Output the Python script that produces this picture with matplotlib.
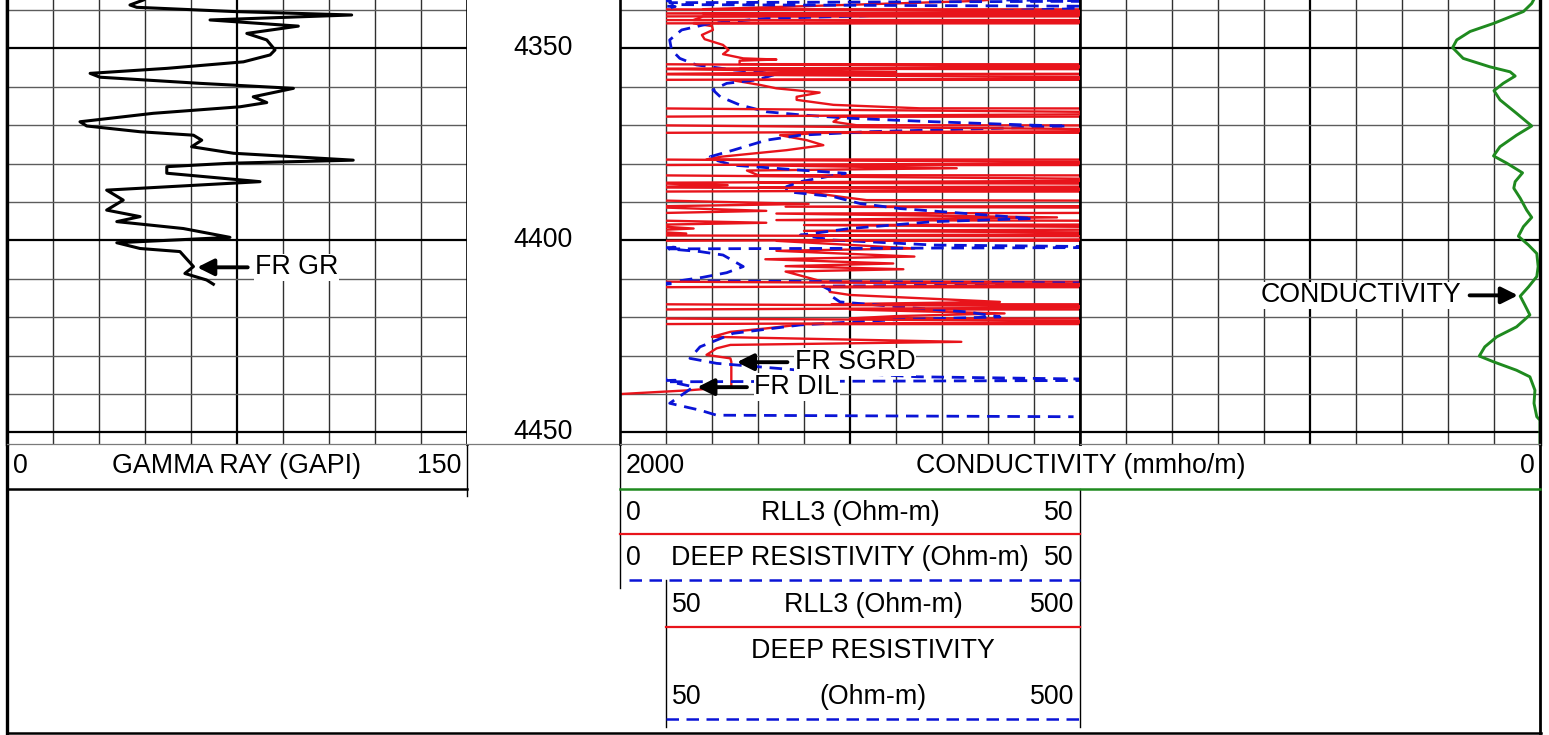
import matplotlib.pyplot as plt

plt.rcParams['font.family'] = ['Liberation Sans', 'DejaVu Sans']

W, H = 1549, 735

# depth window shown in the tracks (ft)
depth_top = 4337.4
depth_bot = 4453.0
depth_labels = [4350, 4400, 4450]

# gamma ray (GAPI)
gr_depth = [4337.4, 4338.7, 4339.3, 4340.4, 4341.3, 4342.6, 4344.2, 4346.1, 4347.8, 4350.4,
            4351.7, 4353.5, 4355.2, 4356.5, 4357.5, 4359.1, 4360.4, 4362.6, 4364.1, 4365.2,
            4366.9, 4369.1, 4370.2, 4371.7, 4372.6, 4373.9, 4375.6, 4377.3, 4379.1, 4379.9,
            4380.8, 4382.5, 4384.7, 4386.9, 4389.5, 4392.1, 4393.8, 4395.1, 4396.9, 4399.2,
            4400.6, 4402.1, 4402.9, 4406.8, 4408.6, 4410.3, 4411.4]
gr = [44.5, 40.1, 42.3, 73.8, 112.4, 66.2, 95.0, 78.2, 84.7, 87.4,
      85.8, 77.1, 52.1, 27.1, 30.3, 62.9, 93.4, 80.3, 84.7, 76.0,
      47.7, 23.8, 26.0, 43.4, 60.8, 63.5, 60.2, 73.8, 112.9, 72.7,
      52.1, 52.1, 82.5, 32.5, 37.9, 32.5, 43.4, 35.8, 57.5, 72.7,
      35.8, 43.4, 56.4, 60.8, 58.0, 65.1, 67.3]

# RLL3 (Ohm-m)
rll3_depth = [4337.4, 4337.7, 4338.6, 4339.8, 4340.5, 4340.9, 4341.2, 4341.7, 4342.6, 4343.1,
              4343.5, 4344.2, 4345.2, 4346.5, 4347.6, 4349.1, 4350.4, 4351.5, 4352.6, 4352.9,
              4353.2, 4354.1, 4354.8, 4355.3, 4356.1, 4356.7, 4357.8, 4358.2, 4359.5, 4360.4,
              4361.5, 4362.6, 4363.4, 4364.7, 4365.6, 4366.9, 4367.8, 4369.1, 4370.0, 4371.4,
              4372.0, 4372.6, 4373.9, 4375.2, 4376.5, 4378.2, 4378.9, 4379.8, 4380.4, 4381.2,
              4381.8, 4383.0, 4384.3, 4385.0, 4385.6, 4386.2, 4386.7, 4387.3, 4388.6, 4389.5,
              4390.5, 4391.2, 4392.3, 4393.0, 4394.0, 4394.7, 4395.4, 4396.0, 4396.9, 4397.5,
              4398.2, 4398.7, 4399.0, 4399.6, 4400.1, 4402.1, 4402.7, 4404.2, 4404.9, 4406.0,
              4406.7, 4407.5, 4408.1, 4409.4, 4410.7, 4411.6, 4412.2, 4413.4, 4414.2, 4416.0,
              4416.6, 4417.3, 4418.0, 4419.0, 4419.7, 4420.3, 4421.2, 4421.8, 4422.9, 4423.8,
              4425.1, 4426.4, 4427.2, 4428.1, 4429.8, 4430.7, 4431.6, 4438.1, 4439.0, 4440.0]
rll3 = [40, 38, 25.7, 9, 800, 9, 800, 9, 8, 800,
        8, 10, 10.1, 8.9, 9.2, 11.2, 11.8, 11.2, 13.4, 17.0,
        13.0, 13.0, 700, 13.0, 300, 13.0, 700, 12.0, 15.2, 17.0,
        21.7, 19.2, 19.2, 23.2, 32.6, 700, 24.0, 23.2, 25.7, 700,
        22.0, 17.4, 20.3, 22.1, 18.1, 11.0, 9.4, 700, 13.8, 36.6,
        13.8, 15.0, 700, 15.0, 117, 15.0, 700, 20.0, 23.9, 26.8,
        205, 18.0, 159, 17.0, 47.5, 17.0, 159, 20.0, 80, 20.0,
        72, 20.0, 700, 700, 17.0, 32.0, 17.0, 32.0, 15.8, 29.7,
        18.0, 30.8, 18.0, 20.0, 22.0, 700, 22.8, 22.8, 25.0, 41.3,
        23.0, 700, 25.0, 41.8, 30.0, 25.0, 700, 20.0, 15.9, 12.0,
        10.0, 37.1, 12.0, 10.5, 9.4, 12.0, 12.1, 12.1, 7.6, 0]

# deep resistivity (Ohm-m)
deep_depth = [4337.4, 4337.7, 4338.1, 4338.6, 4339.1, 4340.0, 4340.9, 4341.6, 4342.2, 4343.5,
              4345.2, 4347.8, 4350.4, 4352.6, 4354.3, 4355.6, 4356.1, 4356.9, 4358.2, 4359.1,
              4360.8, 4362.6, 4364.7, 4366.5, 4367.3, 4368.2, 4369.1, 4370.0, 4370.2, 4370.8,
              4371.7, 4372.6, 4373.9, 4376.5, 4378.2, 4378.9, 4380.4, 4381.7, 4382.5, 4384.7,
              4386.0, 4387.3, 4388.6, 4390.4, 4391.7, 4393.0, 4394.3, 4395.1, 4396.9, 4398.6,
              4399.9, 4401.2, 4401.8, 4402.2, 4402.9, 4403.8, 4406.8, 4408.4, 4409.6, 4410.5,
              4411.2, 4411.9, 4412.9, 4414.2, 4416.0, 4417.3, 4418.6, 4419.9, 4420.6, 4421.2,
              4422.0, 4424.2, 4427.7, 4430.7, 4432.0, 4433.8, 4435.5, 4436.4, 4436.8, 4438.1,
              4442.4, 4444.2, 4445.5, 4445.9]
deep = [42, 55, 5.4, 6.0, 60, 44, 34, 25.4, 15.9, 9.8,
        6.7, 5.4, 5.6, 6.5, 8.3, 12.3, 15.2, 16.7, 14.9, 11.6,
        10.1, 10.9, 13.0, 15.9, 19.6, 25.0, 34.1, 44.9, 48.6, 41.3,
        26.8, 19.6, 15.9, 12.3, 9.8, 10.1, 12.3, 19.6, 24.5, 19.6,
        18.1, 18.1, 23.2, 26.1, 30.4, 37.7, 44.9, 34.1, 25.0, 19.6,
        23.2, 34.1, 60, 5.3, 8.7, 11.2, 13.4, 11.6, 9.0, 6.5,
        60, 22.0, 22.8, 22.8, 23.9, 30.4, 37.7, 41.3, 30.4, 25.4,
        19.6, 12.3, 8.7, 7.6, 10.5, 19.6, 32.3, 60, 5.4, 8.0,
        5.4, 8.7, 10.5, 49.3]

# conductivity (mmho/m)
cond_depth = [4337.4, 4338.3, 4340.4, 4343.5, 4345.6, 4347.8, 4349.8, 4352.6, 4354.8, 4356.1,
              4357.2, 4359.1, 4361.0, 4363.4, 4366.9, 4370.2, 4372.6, 4375.6, 4378.0, 4379.9,
              4382.4, 4384.7, 4386.4, 4389.0, 4392.1, 4394.0, 4396.4, 4398.9, 4401.2, 4403.4,
              4406.8, 4409.4, 4412.1, 4414.5, 4416.8, 4419.4, 4422.5, 4425.1, 4427.7, 4430.1,
              4431.6, 4433.8, 4435.5, 4439.0, 4442.4, 4445.9, 4446.8, 4453.0]
cond = [14, 18, 36, 101, 152, 181, 190, 167, 109, 65,
        54, 80, 100, 87, 51, 18, 51, 87, 101, 72,
        38, 54, 57, 43, 29, 18, 36, 47, 25, 7,
        4, 7, 25, 43, 33, 22, 51, 94, 120, 132,
        101, 51, 22, 11, 13, 7, 0, 0]

RED = '#e8141b'
BLUE = '#0a14d6'
GREEN = '#1f8a1f'
FS = 19.3


def rect(x0, y0, x1, y1):
    return [x0 / W, 1 - y1 / H, (x1 - x0) / W, (y1 - y0) / H]


fig = plt.figure(figsize=(W / 100, H / 100), dpi=100)

hdr = fig.add_axes([0, 0, 1, 1], zorder=0)
hdr.set_xlim(0, W)
hdr.set_ylim(H, 0)
hdr.axis('off')


def track(x0, x1, xlim, ticks=(), major=None):
    ax = fig.add_axes(rect(x0, 0, x1, 444), zorder=2)
    ax.set_xlim(*xlim)
    ax.set_ylim(depth_bot, depth_top)
    ax.set_xticks([])
    ax.set_yticks([])
    for t in ticks:
        if t == major:
            ax.axvline(t, color='k', lw=1.6, zorder=0.5)
        else:
            ax.axvline(t, color='#303030', lw=1.0, zorder=0.5)
    if ticks:
        for d in range(4340, 4451, 10):
            if d % 50 == 0:
                ax.axhline(d, color='k', lw=1.6, zorder=0.5)
            else:
                ax.axhline(d, color='#5c5c5c', lw=1.0, zorder=0.5)
    ax.spines['top'].set_visible(False)
    ax.spines['bottom'].set_color('#7a7a7a')
    ax.spines['bottom'].set_linewidth(0.9)
    for s in ('left', 'right'):
        ax.spines[s].set_linewidth(1.9)
    return ax


ax_gr = track(7, 467, (0, 150), list(range(15, 150, 15)), 75)
ax_gr.spines['left'].set_linewidth(2.4)
ax_dep = track(467, 620, (0, 1))
ax_dep.spines['left'].set_visible(False)
ax_dep.spines['right'].set_visible(False)
ax_res = track(620, 1080, (0, 50), list(range(5, 50, 5)), 25)
ax_cnd = track(1080, 1540, (1000, 0), list(range(900, 0, -100)), 500)
ax_cnd.spines['right'].set_linewidth(2.4)

# backup scale 50-500 for the resistivity curves
ax_bk = fig.add_axes(rect(666, 0, 1080, 444), zorder=3)
ax_bk.set_xlim(50, 500)
ax_bk.set_ylim(depth_bot, depth_top)
ax_bk.axis('off')
ax_bk.patch.set_visible(False)

# curves
ax_gr.plot(gr, gr_depth, color='k', lw=2.2, solid_joinstyle='round')
ax_res.plot(rll3, rll3_depth, color=RED, lw=1.7)
ax_res.plot(deep, deep_depth, color=BLUE, lw=2.0, dashes=(4.5, 2.8))
ax_bk.plot(rll3, rll3_depth, color=RED, lw=1.7)
ax_bk.plot(deep, deep_depth, color=BLUE, lw=2.0, dashes=(4.5, 2.8))
ax_cnd.plot(cond, cond_depth, color=GREEN, lw=2.1, solid_joinstyle='round')

for d in depth_labels:
    ax_dep.text(0.5, d, str(d), ha='center', va='center', fontsize=FS)

# annotations
box = dict(facecolor='white', edgecolor='none', pad=0.5)
arr = dict(arrowstyle='-|>', color='k', lw=2.8, mutation_scale=25, shrinkA=0, shrinkB=0)
ax_gr.annotate('', xy=(62.0, 4407.0), xytext=(78.5, 4407.0), arrowprops=arr, zorder=5)
ax_gr.text(80.8, 4407.0, 'FR GR', ha='left', va='center', fontsize=FS, bbox=box, zorder=4)
ax_res.annotate('', xy=(12.7, 4431.7), xytext=(18.2, 4431.7), arrowprops=arr, zorder=5)
ax_res.text(19.0, 4431.7, 'FR SGRD', ha='left', va='center', fontsize=FS, bbox=box, zorder=4)
ax_res.annotate('', xy=(8.4, 4438.2), xytext=(13.8, 4438.2), arrowprops=arr, zorder=5)
ax_res.text(14.6, 4438.2, 'FR DIL', ha='left', va='center', fontsize=FS, bbox=box, zorder=4)
ax_cnd.annotate('', xy=(48, 4414.3), xytext=(153, 4414.3), arrowprops=arr, zorder=5)
ax_cnd.text(172, 4414.3, 'CONDUCTIVITY', ha='right', va='center', fontsize=FS, bbox=box, zorder=4)

# outer frame and header boxes
hdr.plot([7, 7], [0, 733], color='k', lw=2.4)
hdr.plot([1540.5, 1540.5], [0, 733], color='k', lw=2.0)
hdr.plot([7, 1541], [733, 733], color='k', lw=1.8)
hdr.plot([467, 467], [444, 496], color='k', lw=1.0)
hdr.plot([620, 620], [444, 588], color='k', lw=1.0)
hdr.plot([1080, 1080], [489, 727], color='k', lw=1.0)
hdr.plot([666, 666], [580, 727], color='k', lw=1.0)
hdr.plot([7, 467], [489, 489], color='k', lw=1.8)
hdr.plot([620, 1540], [489, 489], color=GREEN, lw=1.8)
hdr.plot([620, 1080], [534, 534], color=RED, lw=1.6)
hdr.plot([629, 1080], [580, 580], color=BLUE, lw=1.8, dashes=(5, 3))
hdr.plot([666, 1080], [627, 627], color=RED, lw=1.6)
hdr.plot([666, 1080], [719, 719], color=BLUE, lw=1.8, dashes=(5, 3))

hdr.text(13, 466, '0', ha='left', va='center', fontsize=FS)
hdr.text(237, 466, 'GAMMA RAY (GAPI)', ha='center', va='center', fontsize=FS)
hdr.text(461, 466, '150', ha='right', va='center', fontsize=FS)
hdr.text(626, 466, '2000', ha='left', va='center', fontsize=FS)
hdr.text(1081, 466, 'CONDUCTIVITY (mmho/m)', ha='center', va='center', fontsize=FS)
hdr.text(1535, 466, '0', ha='right', va='center', fontsize=FS)
hdr.text(626, 513, '0', ha='left', va='center', fontsize=FS)
hdr.text(850, 513, 'RLL3 (Ohm-m)', ha='center', va='center', fontsize=FS)
hdr.text(1074, 513, '50', ha='right', va='center', fontsize=FS)
hdr.text(626, 558, '0', ha='left', va='center', fontsize=FS)
hdr.text(850, 558, 'DEEP RESISTIVITY (Ohm-m)', ha='center', va='center', fontsize=FS)
hdr.text(1074, 558, '50', ha='right', va='center', fontsize=FS)
hdr.text(672, 605, '50', ha='left', va='center', fontsize=FS)
hdr.text(873, 605, 'RLL3 (Ohm-m)', ha='center', va='center', fontsize=FS)
hdr.text(1074, 605, '500', ha='right', va='center', fontsize=FS)
hdr.text(873, 651, 'DEEP RESISTIVITY', ha='center', va='center', fontsize=FS)
hdr.text(672, 697, '50', ha='left', va='center', fontsize=FS)
hdr.text(873, 697, '(Ohm-m)', ha='center', va='center', fontsize=FS)
hdr.text(1074, 697, '500', ha='right', va='center', fontsize=FS)

plt.savefig('out.png', dpi=100)
